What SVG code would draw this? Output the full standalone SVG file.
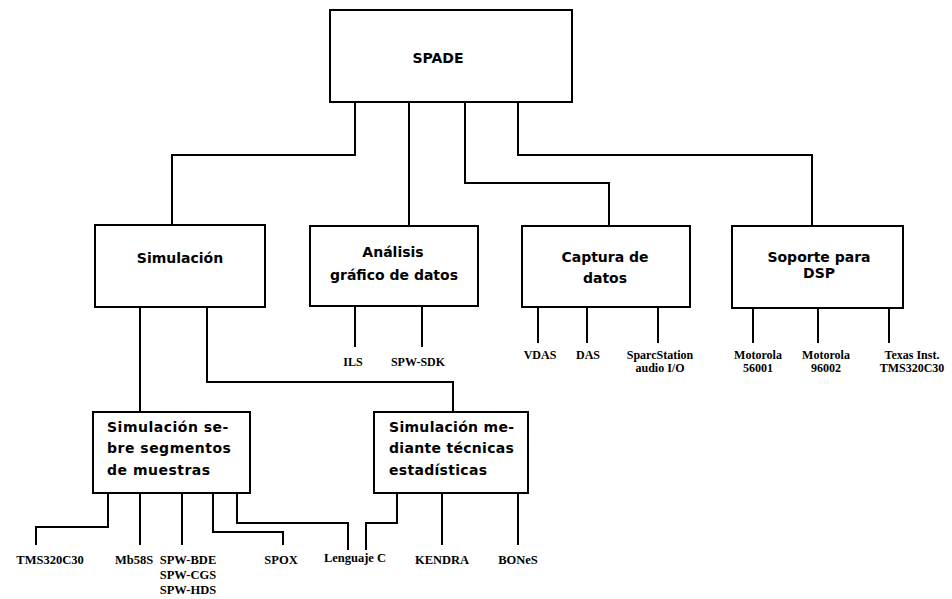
<svg xmlns="http://www.w3.org/2000/svg" width="952" height="599" viewBox="0 0 952 599">
<style>
.box{fill:#fff;stroke:#000;stroke-width:2}
.c{fill:none;stroke:#000;stroke-width:2}
.t{font-family:"DejaVu Sans","Liberation Sans",sans-serif;font-weight:bold;font-size:14px;fill:#000}
.m{text-anchor:middle}
.l{font-family:"Liberation Serif",serif;font-weight:bold;font-size:12.5px;fill:#000;text-anchor:middle}
.s{font-family:"Liberation Serif",serif;font-weight:bold;font-size:12px;fill:#000;text-anchor:middle}
</style>
<rect width="952" height="599" fill="#fff"/>
<g id="connectors">
<path class="c" d="M355 102V155H172V225"/>
<path class="c" d="M409 102V226"/>
<path class="c" d="M465 102V183H609V226"/>
<path class="c" d="M518 102V155H812V226"/>
<path class="c" d="M140 307V412"/>
<path class="c" d="M207 307V382H453V412"/>
<path class="c" d="M355 306V347M422 306V347"/>
<path class="c" d="M538 307V343M587 307V343M658 307V343"/>
<path class="c" d="M753 308V343M818 308V343M889 308V343"/>
<path class="c" d="M108 493V527H36V545"/>
<path class="c" d="M140 493V545"/>
<path class="c" d="M182 493V545"/>
<path class="c" d="M213 493V532H283V545"/>
<path class="c" d="M237 493V523H348V550"/>
<path class="c" d="M397 493V523H366V550"/>
<path class="c" d="M442 493V545"/>
<path class="c" d="M518 493V545"/>
</g>
<g id="spade">
<rect class="box" x="330" y="10" width="242" height="92"/>
<text class="t m" x="438" y="63">SPADE</text>
</g>
<g id="simulacion">
<rect class="box" x="95" y="225" width="170" height="82"/>
<text class="t m" x="180" y="263">Simulación</text>
</g>
<g id="analisis">
<rect class="box" x="310" y="226" width="168" height="80"/>
<text class="t m" x="393" y="257">Análisis</text>
<text class="t m" x="394" y="280">gráfico de datos</text>
</g>
<g id="captura">
<rect class="box" x="522" y="226" width="168" height="81"/>
<text class="t m" x="605" y="262">Captura de</text>
<text class="t m" x="605" y="283">datos</text>
</g>
<g id="dsp">
<rect class="box" x="732" y="226" width="171" height="82"/>
<text class="t m" x="819" y="262">Soporte para</text>
<text class="t m" x="819" y="278">DSP</text>
</g>
<g id="sim-sobre">
<rect class="box" x="93" y="412" width="157" height="81"/>
<text class="t" x="107" y="432" letter-spacing="0.5">Simulación se-</text>
<text class="t" x="107" y="453" letter-spacing="0.5">bre segmentos</text>
<text class="t" x="107" y="475" letter-spacing="0.5">de muestras</text>
</g>
<g id="sim-mediante">
<rect class="box" x="374" y="412" width="154" height="81"/>
<text class="t" x="389" y="432" letter-spacing="0.3">Simulación me-</text>
<text class="t" x="389" y="453" letter-spacing="0.3">diante técnicas</text>
<text class="t" x="389" y="475" letter-spacing="0.3">estadísticas</text>
</g>
<g id="leaves-analisis">
<text class="s" x="353" y="366">ILS</text>
<text class="s" x="418" y="366">SPW-SDK</text>
</g>
<g id="leaves-captura">
<text class="s" x="540" y="359">VDAS</text>
<text class="s" x="588" y="359">DAS</text>
<text class="s" x="660" y="359">SparcStation</text>
<text class="s" x="660" y="372">audio I/O</text>
</g>
<g id="leaves-dsp">
<text class="s" x="758" y="359">Motorola</text>
<text class="s" x="758" y="372">56001</text>
<text class="s" x="826" y="359">Motorola</text>
<text class="s" x="826" y="372">96002</text>
<text class="s" x="912" y="359">Texas Inst.</text>
<text class="s" x="912" y="372">TMS320C30</text>
</g>
<g id="leaves-sim">
<text class="l" x="50" y="564">TMS320C30</text>
<text class="l" x="134" y="564">Mb58S</text>
<text class="l" x="188" y="564">SPW-BDE</text>
<text class="l" x="188" y="579">SPW-CGS</text>
<text class="l" x="188" y="594">SPW-HDS</text>
<text class="l" x="281" y="564">SPOX</text>
<text class="l" x="355" y="562">Lenguaje C</text>
<text class="l" x="442" y="564">KENDRA</text>
<text class="l" x="518" y="564">BONeS</text>
</g>
</svg>
